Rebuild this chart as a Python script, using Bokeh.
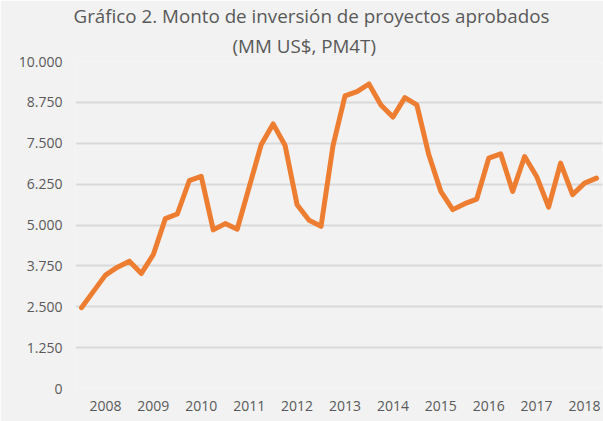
from bokeh.plotting import figure
from bokeh.models import FixedTicker, Range1d, Title
from bokeh.embed import file_html
from bokeh.resources import INLINE

# Quarterly approved investment (MM US$, 4-quarter moving average)
values = [2470, 2970, 3467, 3710, 3894, 3518, 4097, 5195, 5336, 6354,
          6485, 4850, 5043, 4870, 6160, 7452, 8092, 7430, 5622, 5144,
          4961, 7430, 8946, 9077, 9312, 8671, 8300, 8894, 8671, 7147,
          6028, 5470, 5653, 5793, 7043, 7177, 6028, 7095, 6485, 5549,
          6891, 5927, 6281, 6433]
periods = list(range(len(values)))

year_labels = ["2008", "2009", "2010", "2011", "2012", "2013",
               "2014", "2015", "2016", "2017", "2018"]
year_positions = [2, 6, 10, 14, 18, 22, 26, 30, 34, 38, 42]

y_ticks = [0, 1250, 2500, 3750, 5000, 6250, 7500, 8750, 10000]
y_tick_labels = ["0", "1.250", "2.500", "3.750", "5.000", "6.250",
                 "7.500", "8.750", "10.000"]

title_line1 = "Gráfico 2. Monto de inversión de proyectos aprobados"
title_line2 = "(MM US$, PM4T)"

FONT = "Open Sans"
TXT = "#595959"
BG = "#F2F2F2"

p = figure(width=603, height=421, output_backend="svg", toolbar_location=None,
           x_range=Range1d(-0.5, len(values) - 0.5), y_range=Range1d(0, 10000),
           min_border_left=75, min_border_right=1, min_border_top=61,
           min_border_bottom=33,
           background_fill_color=BG, border_fill_color=BG,
           outline_line_color=None)

p.line(periods, values, line_color="#ED7D31", line_width=5,
       line_join="round", line_cap="round")

# axes
p.xaxis.ticker = FixedTicker(ticks=year_positions)
p.xaxis.major_label_overrides = {k: v for k, v in zip(year_positions, year_labels)}
p.yaxis.ticker = FixedTicker(ticks=y_ticks)
p.yaxis.major_label_overrides = {k: v for k, v in zip(y_ticks, y_tick_labels)}
for ax in (p.xaxis, p.yaxis):
    ax.axis_line_color = None
    ax.major_tick_line_color = None
    ax.minor_tick_line_color = None
    ax.major_tick_out = 0
    ax.major_tick_in = 0
    ax.major_label_text_color = TXT
    ax.major_label_text_font = FONT
    ax.major_label_text_font_size = "14px"
p.xaxis.major_label_standoff = 12
p.yaxis.major_label_standoff = 13

p.xgrid.grid_line_color = None
p.ygrid.grid_line_color = "#D9D9D9"
p.ygrid.grid_line_width = 2

# two-line title (second line added first: it sits nearest the plot)
p.add_layout(Title(text=title_line2, align="left", offset=157, standoff=5,
                   text_font=FONT, text_font_size="18.8px",
                   text_font_style="normal", text_color=TXT), "above")
p.add_layout(Title(text=title_line1, align="left", offset=-2, standoff=0,
                   text_font=FONT, text_font_size="18.8px",
                   text_font_style="normal", text_color=TXT), "above")

open("out.html", "w").write(file_html(p, INLINE))
